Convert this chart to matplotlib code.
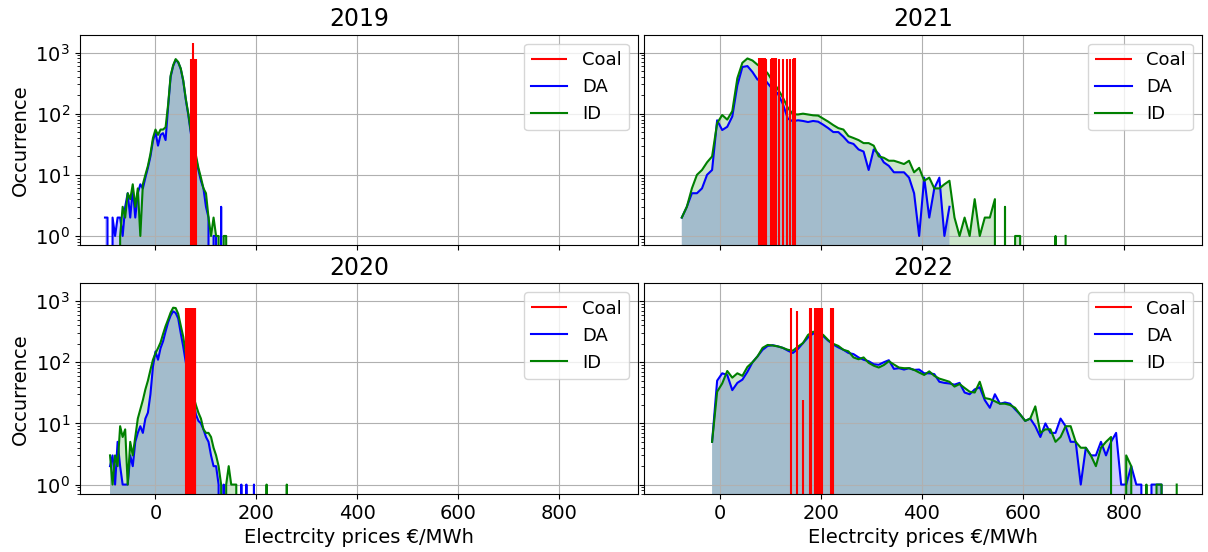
import numpy as np
import matplotlib.pyplot as plt

# histogram counts (bin centres start at *_lo, spaced by *_step)
da_2019_lo, da_2019_step = -100, 5
da_2019 = [2, 2, 0, 2, 1, 2, 2, 1, 3, 5,
           2, 6, 2, 5, 7, 6, 9, 13, 20, 36,
           50, 30, 45, 48, 37, 130, 400, 600, 760, 690,
           540, 340, 170, 95, 48, 28, 19, 12, 8, 6,
           3, 2, 0, 1, 1, 0, 3, 0, 0, 0]
id_2019 = [0, 0, 0, 0, 0, 0, 1, 3, 2, 5,
           4, 7, 3, 6, 1, 7, 10, 14, 22, 40,
           55, 45, 55, 55, 60, 140, 420, 620, 780, 700,
           550, 350, 175, 100, 52, 32, 21, 13, 9, 6,
           5, 2, 1, 2, 1, 1, 0, 1, 1, 0]

da_2020_lo, da_2020_step = -90, 5
da_2020 = [2, 3, 1, 5, 2, 1, 1, 1, 3, 2,
           5, 7, 9, 7, 12, 15, 30, 85, 150, 110,
           170, 220, 320, 450, 580, 680, 640, 520, 300, 180,
           100, 60, 35, 24, 14, 11, 10, 8, 6, 5,
           3, 2, 2, 1, 0, 1, 0, 0, 0, 0,
           0, 0, 1, 0, 1, 0, 0, 1, 0, 0,
           0, 0, 0, 0, 0, 0, 0, 0, 0, 0,
           0, 0]
id_2020 = [3, 1, 3, 2, 9, 6, 8, 1, 5, 3,
           6, 12, 17, 24, 36, 50, 75, 110, 140, 170,
           210, 290, 390, 500, 650, 780, 770, 620, 400, 260,
           140, 70, 42, 28, 20, 15, 12, 8, 7, 7,
           6, 4, 3, 2, 1, 0, 1, 2, 1, 1,
           1, 0, 0, 0, 0, 0, 0, 0, 0, 0,
           0, 0, 1, 0, 0, 0, 0, 0, 0, 0,
           1, 0]

da_2021_lo, da_2021_step = -75, 10
da_2021 = [2, 3, 5, 5, 6, 10, 12, 78, 54, 61,
           90, 290, 580, 600, 480, 360, 400, 315, 250, 215,
           145, 83, 75, 78, 76, 73, 76, 74, 66, 58,
           50, 50, 42, 34, 32, 26, 24, 12, 26, 22,
           16, 14, 11, 11, 11, 9, 5, 1, 9, 2,
           6, 9, 1, 3]
id_2021 = [2, 3, 6, 10, 12, 16, 20, 70, 95, 80,
           110, 380, 680, 800, 740, 630, 560, 457, 340, 255,
           185, 125, 98, 97, 100, 97, 94, 93, 83, 74,
           65, 58, 55, 43, 40, 37, 33, 33, 30, 20,
           19, 17, 17, 16, 15, 17, 11, 13, 8, 9,
           6, 6, 7, 8, 2, 1, 2, 1, 4, 1,
           2, 2, 4, 0, 3, 0, 1, 1, 0, 0,
           0, 0, 0, 0, 1, 0, 1]

da_2022_lo, da_2022_step = -15, 10
da_2022 = [5, 50, 66, 62, 35, 46, 52, 70, 100, 125,
           160, 185, 190, 182, 172, 155, 142, 165, 206, 255,
           295, 285, 268, 225, 195, 175, 160, 142, 136, 120,
           110, 104, 93, 91, 100, 108, 78, 80, 76, 80,
           75, 76, 66, 66, 64, 48, 46, 45, 43, 46,
           32, 30, 36, 39, 24, 18, 30, 21, 22, 21,
           17, 14, 11, 12, 9, 6, 10, 7, 7, 12,
           9, 5, 5, 1, 4, 3, 3, 5, 3, 5,
           7, 1, 1, 2, 1, 1, 0, 1, 1, 1,
           0, 0, 0]
id_2022 = [5, 33, 45, 72, 56, 66, 60, 84, 100, 125,
           172, 192, 188, 182, 172, 160, 155, 180, 206, 280,
           315, 310, 280, 230, 200, 185, 160, 151, 120, 112,
           120, 98, 88, 82, 90, 104, 92, 82, 80, 80,
           75, 68, 62, 71, 60, 54, 51, 48, 40, 44,
           38, 33, 32, 48, 26, 25, 23, 21, 21, 20,
           18, 14, 11, 12, 19, 7, 8, 8, 5, 6,
           9, 9, 5, 4, 4, 3, 2, 4, 5, 6,
           0, 0, 3, 2, 0, 0, 1, 0, 1, 1,
           0, 0, 1]

# coal: price level -> hours
coal_2019_price = [71, 72, 73, 74, 75, 76, 77, 78, 79, 80]
coal_2019_hours = [780, 790, 780, 800, 1440, 790, 780, 790, 780, 780]
coal_2020_price = [61, 62, 63, 64, 65, 66, 67, 68, 69, 70, 71, 72, 73, 74, 75, 76, 77, 78, 79]
coal_2020_hours = [760, 760, 770, 760, 760, 770, 760, 760, 760, 770, 760, 760, 760, 760, 770, 760, 760, 760, 760]
coal_2021_price = [78, 80, 82, 84, 86, 88, 90, 92, 102, 104, 106, 108, 110, 112,
                   118, 124.5, 132.5, 139, 146, 148, 150]
coal_2021_hours = [800, 790, 800, 800, 790, 800, 800, 790, 790, 800, 790, 800, 790, 800,
                   790, 790, 780, 790, 790, 800, 810]
coal_2022_price = [141, 154, 165, 178, 181, 188, 192, 196, 199, 203, 220, 224]
coal_2022_hours = [760, 680, 24, 760, 760, 760, 760, 760, 760, 760, 760, 760]


def draw(ax, title, lo, step, da, id_, coal_p, coal_h):
    x_da = lo + step * np.arange(len(da))
    x_id = lo + step * np.arange(len(id_))
    l_da, = ax.plot(x_da, da, color="blue", lw=1.5, label="DA")
    ax.fill_between(x_da, da, color="blue", alpha=0.2, lw=0)
    l_id, = ax.plot(x_id, id_, color="green", lw=1.5, label="ID")
    ax.fill_between(x_id, id_, color="green", alpha=0.2, lw=0)
    coal = ax.vlines(coal_p, 0.1, coal_h, color="red", lw=1.5, label="Coal")
    ax.set_yscale("log")
    ax.grid(True)
    ax.set_title(title, fontsize=17)
    ax.tick_params(labelsize=14)
    ax.legend(handles=[coal, l_da, l_id], loc="upper right", fontsize=13)


fig, axes = plt.subplots(2, 2, figsize=(12.08, 5.52), dpi=100, sharex=True, sharey=True)
fig.subplots_adjust(left=0.066, right=0.995, top=0.937, bottom=0.105, wspace=0.011, hspace=0.18)

draw(axes[0, 0], "2019", da_2019_lo, da_2019_step, da_2019, id_2019, coal_2019_price, coal_2019_hours)
draw(axes[1, 0], "2020", da_2020_lo, da_2020_step, da_2020, id_2020, coal_2020_price, coal_2020_hours)
draw(axes[0, 1], "2021", da_2021_lo, da_2021_step, da_2021, id_2021, coal_2021_price, coal_2021_hours)
draw(axes[1, 1], "2022", da_2022_lo, da_2022_step, da_2022, id_2022, coal_2022_price, coal_2022_hours)

axes[0, 0].set_xlim(-150, 955)
axes[0, 0].set_ylim(0.7, 1950)

for ax in axes[:, 0]:
    ax.set_ylabel("Occurrence", fontsize=14)
for ax in axes[1, :]:
    ax.set_xlabel("Electrcity prices €/MWh", fontsize=14)

fig.savefig("out.png", dpi=100)
